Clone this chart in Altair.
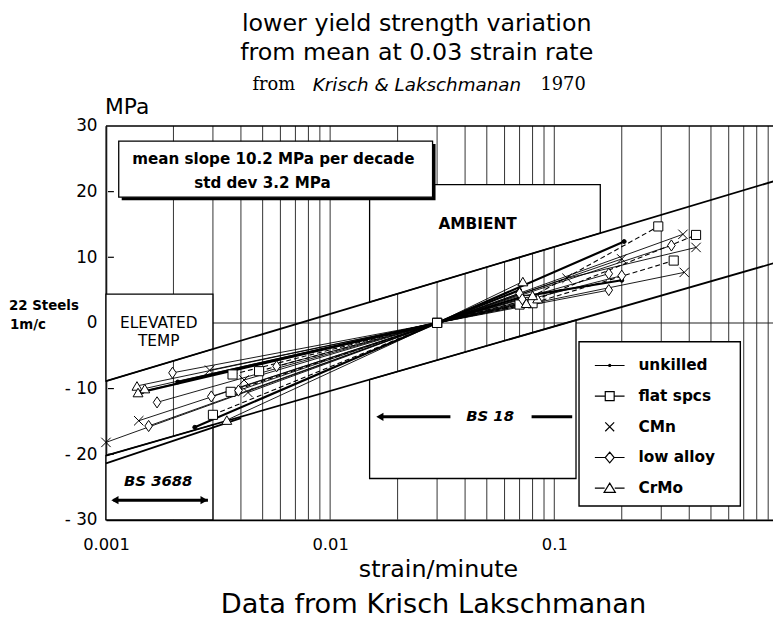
import math
import altair as alt
import pandas as pd

# ---------------- data ----------------
TYPES = ["unkilled", "flat spcs", "CMn", "low alloy", "CrMo"]

# each steel: list of (strain rate per minute, MPa deviation from mean at 0.03)
UNKILLED = [
    [(0.00145, -10.5), (0.03, 0.0), (0.205, 12.4)],
    [(0.00209, -9.0), (0.03, 0.0), (0.070, 5.0)],
    [(0.00249, -15.9), (0.03, 0.0), (0.072, 4.0), (0.200, 6.5)],
]
FLAT_SPCS = [
    [(0.00367, -7.85), (0.03, 0.0), (0.075, 3.5), (0.291, 14.7)],
    [(0.00482, -7.35), (0.03, 0.0), (0.078, 3.2), (0.429, 13.4)],
    [(0.00360, -10.5), (0.03, 0.0), (0.080, 3.0), (0.341, 9.5)],
    [(0.00300, -14.0), (0.03, 0.0), (0.070, 2.8)],
]
CMN = [
    [(0.00100, -18.2), (0.03, 0.0), (0.375, 13.5)],
    [(0.00140, -14.9), (0.03, 0.0), (0.200, 9.75)],
    [(0.00290, -7.2), (0.03, 0.0), (0.114, 6.8), (0.429, 11.5)],
    [(0.00413, -8.7), (0.03, 0.0), (0.380, 7.7)],
    [(0.00430, -10.6), (0.03, 0.0), (0.075, 3.2)],
]
LOW_ALLOY = [
    [(0.00155, -15.7), (0.03, 0.0), (0.175, 5.0)],
    [(0.00169, -12.1), (0.03, 0.0), (0.175, 7.5)],
    [(0.00198, -7.6), (0.03, 0.0), (0.333, 11.8)],
    [(0.00295, -11.2), (0.03, 0.0), (0.200, 7.2)],
    [(0.00577, -6.6), (0.03, 0.0), (0.070, 4.5)],
    [(0.00390, -10.3), (0.03, 0.0), (0.072, 3.6)],
]
CRMO = [
    [(0.001375, -9.6), (0.03, 0.0), (0.0724, 6.3)],
    [(0.00149, -10.0), (0.03, 0.0), (0.0843, 3.7)],
    [(0.00139, -10.6), (0.03, 0.0), (0.080, 4.2)],
    [(0.00346, -14.8), (0.03, 0.0), (0.075, 3.0)],
]
SERIES = {"unkilled": UNKILLED, "flat spcs": FLAT_SPCS, "CMn": CMN,
          "low alloy": LOW_ALLOY, "CrMo": CRMO}

# scatter band (two standard deviations) lines: end points
BAND_UPPER = [(0.001, -8.85), (1.0, 21.8)]
BAND_LOWER = [(0.001, -20.2), (1.0, 9.3)]
BAND_LOWER_2 = [(0.001, -21.4), (0.004, -14.5)]

# regions: (name, x from, x to, side, outer edge)
REGIONS = [
    ("elevated", 0.001, 0.003, "upper", 4.4),
    ("ambient", 0.015, 0.1604, "upper", 21.06),
    ("bs3688", 0.001, 0.003, "lower", -30.0),
    ("bs18", 0.015, 0.125, "lower", -23.7),
]
NOTE_BOX = (0.00114, 0.02864, 27.69, 19.15)

GRID_RATES = [k * 10.0 ** e for e in (-3, -2, -1) for k in range(1, 10)] + [1.0]
Y_TICKS = [-30, -20, -10, 0, 10, 20, 30]
X_LABELS = [0.001, 0.01, 0.1, 1.0]

# in-plot annotations (text, rate, MPa)
NOTES = [
    ("ELEVATED", 0.00172, 0.0),
    ("TEMP", 0.00172, -2.7),
    ("AMBIENT", 0.0455, 15.1),
]
BOX_LINES = [
    ("mean slope 10.2 MPa per decade", 0.00558, 25.0),
    ("std dev 3.2 MPa", 0.00499, 21.3),
]
BS_LABELS = [("BS 18", 0.0517, -14.2), ("BS 3688", 0.00171, -24.1)]

# ---------------- tables ----------------
rows = []
sid = 0
for t in TYPES:
    for steel in SERIES[t]:
        sid += 1
        for r, v in steel:
            rows.append({"steel": sid, "type": t, "rate": r, "mpa": v})
pts = pd.DataFrame(rows)
marks_df = pts[(pts.rate != 0.03) | (pts.type == "flat spcs")]


def band_at(line, x):
    (x0, y0), (x1, y1) = line
    t = (math.log10(x) - math.log10(x0)) / (math.log10(x1) - math.log10(x0))
    return y0 + t * (y1 - y0)


reg_rows = []
for name, a, b, side, edge in REGIONS:
    line = BAND_UPPER if side == "upper" else BAND_LOWER
    for x in (a, b):
        reg_rows.append({"region": name, "x": x, "y": band_at(line, x), "y2": edge})
regions = pd.DataFrame(reg_rows)

band_rows = []
for name, line in (("u", BAND_UPPER), ("l", BAND_LOWER), ("l2", BAND_LOWER_2)):
    for x, y in line:
        band_rows.append({"line": name, "x": x, "y": y})
bands = pd.DataFrame(band_rows)

grid = pd.DataFrame({"rate": GRID_RATES})
yt = pd.DataFrame({"v": [v for v in Y_TICKS if abs(v) != 30 and v != 0]})
note_box = pd.DataFrame([dict(x0=NOTE_BOX[0], x1=NOTE_BOX[1], y0=NOTE_BOX[2], y1=NOTE_BOX[3])])
ONE = pd.DataFrame({"a": [0]})

# ---------------- scales / axes ----------------
FONT = "DejaVu Sans"
XS = alt.Scale(type="log", domain=[0.001, 1.0], range=[0, 679.5], nice=False)
YS = alt.Scale(domain=[-30, 30], nice=False, zero=False)
XAX = alt.Axis(values=X_LABELS, format="~g", labelFlush=False, labelFontSize=16.5,
               labelFont=FONT, labelColor="black", labelPadding=17, ticks=False,
               grid=False, domainColor="black", domainWidth=1.6, labelOverlap=False)
YAX = alt.Axis(values=Y_TICKS, labelExpr="datum.value < 0 ? '- ' + abs(datum.value) : datum.label",
               labelFontSize=17, labelFont=FONT, labelColor="black", labelPadding=9,
               ticks=False, grid=False, domainColor="black", domainWidth=1.6)


def X(field=None, datum=None):
    if field is not None:
        return alt.X(field, type="quantitative", scale=XS, axis=XAX, title=None)
    return alt.X(datum=datum, type="quantitative", scale=XS, axis=XAX, title=None)


def Y(field=None, datum=None):
    if field is not None:
        return alt.Y(field, type="quantitative", scale=YS, axis=YAX, title=None, stack=None)
    return alt.Y(datum=datum, type="quantitative", scale=YS, axis=YAX, title=None)


layers = []
# vertical grid lines
layers.append(alt.Chart(grid).mark_rule(color="#333", strokeWidth=1).encode(x=X("rate")))
# zero line and top frame
layers.append(alt.Chart(ONE).mark_rule(color="#222", strokeWidth=1.1).encode(y=Y(datum=0)))
layers.append(alt.Chart(ONE).mark_rule(color="black", strokeWidth=1.6).encode(y=Y(datum=30)))
# region boxes
layers.append(alt.Chart(regions).mark_area(fill="white", stroke="black", strokeWidth=1.3, opacity=1)
              .encode(x=X("x"), y=Y("y"), y2=alt.Y2("y2"), detail="region:N"))
# band lines
layers.append(alt.Chart(bands).mark_line(color="black", strokeWidth=1.8)
              .encode(x=X("x"), y=Y("y"), detail="line:N", order="x:Q"))

LINE_STYLE = {"unkilled": (2.2, None), "flat spcs": (1.1, [5, 3]), "CMn": (0.9, None),
              "low alloy": (0.9, None), "CrMo": (0.9, None)}
for t in TYPES:
    w, d = LINE_STYLE[t]
    kw = dict(color="black", strokeWidth=w)
    if d:
        kw["strokeDash"] = d
    layers.append(alt.Chart(pts).transform_filter(alt.datum.type == t).mark_line(**kw)
                  .encode(x=X("rate"), y=Y("mpa"), detail="steel:N", order="rate:Q"))

X_PATH = "M-1,-1L1,1M-1,1L1,-1"
DIAMOND_PATH = "M0,-1.25L0.85,0L0,1.25L-0.85,0Z"
MARK_STYLE = {
    "unkilled": dict(shape="circle", size=16, fill="black"),
    "flat spcs": dict(shape="square", size=85, fill="white"),
    "CMn": dict(shape=X_PATH, size=90, fill="transparent"),
    "low alloy": dict(shape=DIAMOND_PATH, size=81, fill="white"),
    "CrMo": dict(shape="triangle-up", size=100, fill="white"),
}
for t in TYPES:
    st = MARK_STYLE[t]
    layers.append(alt.Chart(marks_df).transform_filter(alt.datum.type == t)
                  .mark_point(shape=st["shape"], size=st["size"], filled=True, fill=st["fill"],
                              stroke="black", strokeWidth=1, opacity=1)
                  .encode(x=X("rate"), y=Y("mpa")))

# note box with shadow
layers.append(alt.Chart(note_box).mark_rect(fill="black", xOffset=3, x2Offset=3, yOffset=3, y2Offset=3)
              .encode(x=X("x0"), x2=alt.X2("x1"), y=Y("y0"), y2=alt.Y2("y1")))
layers.append(alt.Chart(note_box).mark_rect(fill="white", stroke="black", strokeWidth=1.3)
              .encode(x=X("x0"), x2=alt.X2("x1"), y=Y("y0"), y2=alt.Y2("y1")))
for txt, xv, yv in BOX_LINES:
    layers.append(alt.Chart(ONE).mark_text(text=txt, font=FONT, fontSize=15.3, fontWeight="bold",
                                           color="black", align="center", baseline="middle")
                  .encode(x=X(datum=xv), y=Y(datum=yv)))
for txt, xv, yv in NOTES:
    layers.append(alt.Chart(ONE).mark_text(text=txt, font=FONT, fontSize=15.5,
                                           fontWeight="bold" if txt == "AMBIENT" else "normal",
                                           color="black", align="center", baseline="middle")
                  .encode(x=X(datum=xv), y=Y(datum=yv)))
for txt, xv, yv in BS_LABELS:
    layers.append(alt.Chart(ONE).mark_text(text=txt, font=FONT, fontSize=15, fontWeight="bold",
                                           fontStyle="italic", color="black", align="center",
                                           baseline="middle")
                  .encode(x=X(datum=xv), y=Y(datum=yv)))

# arrows (BS 18 and BS 3688)
ARROWS = [(0.0168, 0.0344, -14.3), (0.0792, 0.1202, -14.3), (0.00108, 0.00285, -27.0)]
for a, b, yv in ARROWS:
    layers.append(alt.Chart(ONE).mark_rule(color="black", strokeWidth=3)
                  .encode(x=X(datum=a), x2=alt.X2(datum=b), y=Y(datum=yv)))
HEADS = [("triangle-left", 0.01667, -14.3), ("triangle-left", 0.001096, -27.0),
         ("triangle-right", 0.00274, -27.0)]
for shp, xv, yv in HEADS:
    layers.append(alt.Chart(ONE).mark_point(shape=shp, size=70, filled=True, color="black", opacity=1)
                  .encode(x=X(datum=xv), y=Y(datum=yv)))

# inward y ticks
layers.append(alt.Chart(yt).mark_rule(color="black", strokeWidth=1.2)
              .encode(y=Y("v"), x=alt.value(2), x2=alt.value(8)))

# legend frame and legend
layers.append(alt.Chart(ONE).mark_rect(fill="white", stroke="black", strokeWidth=1.4)
              .encode(x=alt.value(478), x2=alt.value(641), y=alt.value(218), y2=alt.value(384)))
LEG_PATHS = [
    "M-1,0H1M-0.07,0A0.07,0.07,0,1,1,0.07,0A0.07,0.07,0,1,1,-0.07,0Z",
    "M-1,0H-0.3M0.3,0H1M-0.3,-0.3H0.3V0.3H-0.3Z",
    "M-0.3,-0.3L0.3,0.3M-0.3,0.3L0.3,-0.3",
    "M-1,0H-0.3M0.3,0H1M0,-0.36L0.3,0L0,0.36L-0.3,0Z",
    "M-1,0H-0.34M0.34,0H1M0,-0.34L0.38,0.28H-0.38Z",
]
layers.append(alt.Chart(pts).transform_filter("false")
              .mark_point(size=900, color="black", filled=False, strokeWidth=1.2, opacity=1)
              .encode(x=X("rate"), y=Y("mpa"),
                      shape=alt.Shape("type:N", scale=alt.Scale(domain=TYPES, range=LEG_PATHS),
                                      legend=alt.Legend(title=None, orient="none", legendX=493,
                                                        legendY=226, padding=0, rowPadding=6,
                                                        labelFont=FONT, labelFontSize=15.5,
                                                        labelFontWeight="bold", labelColor="black",
                                                        labelOffset=13, symbolSize=900,
                                                        symbolStrokeColor="black",
                                                        symbolStrokeWidth=1.2,
                                                        symbolFillColor="transparent",
                                                        zindex=1))))

# titles and outside labels (pixel positions relative to plot area)
def ptext(txt, x, y, size, align="center", weight="normal", style="normal", font=FONT):
    return alt.Chart(ONE).mark_text(text=txt, font=font, fontSize=size, fontWeight=weight,
                                    fontStyle=style, align=align, baseline="middle",
                                    color="black").encode(x=alt.value(x), y=alt.value(y))


layers += [
    ptext("lower yield strength variation", 314, -103, 24),
    ptext("from mean at 0.03 strain rate", 314, -74, 24),
    ptext("from", 148, -41, 18, align="left", font="DejaVu Serif"),
    ptext("Krisch & Lakschmanan", 209, -41, 18.5, align="left", style="italic"),
    ptext("1970", 439, -41, 18, align="left", font="DejaVu Serif"),
    ptext("MPa", -1, -19, 22, align="left"),
    ptext("22 Steels", -98, 182, 13.5, align="left", weight="bold"),
    ptext("1m/c", -97, 201, 13.5, align="left", weight="bold"),
    ptext("strain/minute", 336, 449, 24),
    ptext("Data from Krisch Lakschmanan", 331, 484, 27.5),
]

chart = (alt.layer(*layers)
         .resolve_scale(shape="independent")
         .properties(width=674, height=398, autosize=alt.AutoSizeParams(type="none"),
                     padding={"left": 99, "top": 116, "right": 0, "bottom": 102},
                     background="white")
         .configure_view(stroke=None))

chart.save("out.html", embed_options={"renderer": "svg", "actions": False})
